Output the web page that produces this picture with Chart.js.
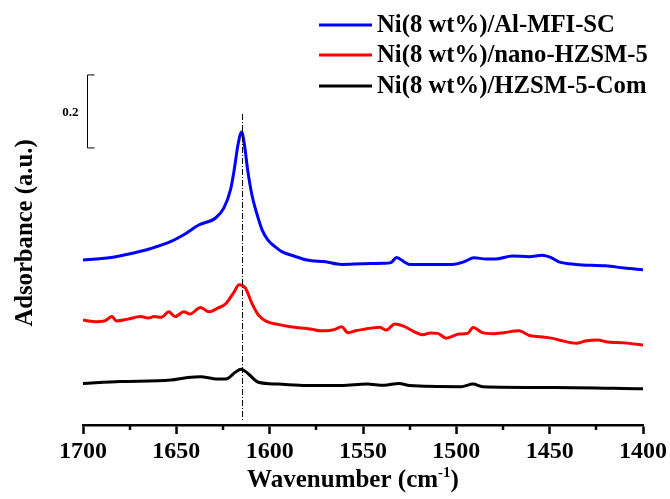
<!DOCTYPE html>
<html>
<head>
<meta charset="utf-8">
<script src="https://cdn.jsdelivr.net/npm/chart.js@4/dist/chart.umd.min.js"></script>
<style>
  html, body { margin: 0; padding: 0; background: #fff; }
  #wrap { width: 670px; height: 499px; }
</style>
</head>
<body>
<div id="wrap"><canvas id="irChart"></canvas></div>
<script>
// series labels and colours
const seriesNames = ["Ni(8 wt%)/Al-MFI-SC", "Ni(8 wt%)/nano-HZSM-5", "Ni(8 wt%)/HZSM-5-Com"];
const seriesColors = ["#0000ff", "#ff0000", "#000000"];

// x ticks (cm-1)
const xTicks = [1700, 1650, 1600, 1550, 1500, 1450, 1400];

// Ni(8 wt%)/Al-MFI-SC (offset absorbance, a.u.)
const blueWn = [1700, 1690, 1685, 1676, 1664, 1654, 1646, 1638, 1629, 1624.5, 1621, 1619, 1617, 1615, 1613.5, 1611.8, 1609.5, 1607, 1604, 1601, 1597, 1593.5, 1587, 1580, 1570, 1561.5, 1550, 1539, 1535, 1532, 1528, 1525, 1515, 1502, 1496, 1490.5, 1484, 1479, 1470, 1461, 1454, 1449, 1445, 1436, 1420, 1410, 1400];
const blueAbs = [0.452, 0.456, 0.459, 0.468, 0.483, 0.500, 0.521, 0.548, 0.567, 0.595, 0.644, 0.699, 0.767, 0.803, 0.767, 0.699, 0.630, 0.581, 0.534, 0.507, 0.488, 0.475, 0.463, 0.452, 0.447, 0.440, 0.442, 0.443, 0.445, 0.459, 0.447, 0.440, 0.440, 0.440, 0.447, 0.458, 0.455, 0.455, 0.463, 0.461, 0.465, 0.458, 0.447, 0.440, 0.436, 0.430, 0.425];

// Ni(8 wt%)/nano-HZSM-5
const redWn = [1700, 1697, 1693, 1688, 1684.5, 1682, 1676, 1669, 1665, 1662, 1658, 1654, 1650.7, 1646, 1642.7, 1637, 1632.5, 1627.8, 1623.4, 1619, 1616.4, 1613, 1609.5, 1606, 1601.4, 1595, 1589, 1577, 1573, 1570, 1565, 1561.5, 1558, 1554, 1550, 1541, 1537.5, 1533, 1528.3, 1522.7, 1518, 1514, 1510, 1505.5, 1498.6, 1494, 1491, 1486, 1480, 1474.5, 1466.4, 1460.8, 1455, 1449, 1445, 1435.6, 1431, 1424, 1420, 1410, 1400];
const redAbs = [0.288, 0.285, 0.283, 0.286, 0.297, 0.285, 0.290, 0.297, 0.293, 0.297, 0.295, 0.310, 0.297, 0.310, 0.304, 0.322, 0.310, 0.320, 0.333, 0.365, 0.384, 0.375, 0.333, 0.301, 0.283, 0.275, 0.269, 0.262, 0.258, 0.258, 0.262, 0.269, 0.253, 0.258, 0.262, 0.268, 0.260, 0.277, 0.271, 0.256, 0.247, 0.252, 0.251, 0.238, 0.249, 0.251, 0.267, 0.253, 0.250, 0.253, 0.258, 0.245, 0.242, 0.238, 0.233, 0.224, 0.230, 0.233, 0.228, 0.225, 0.219];

// Ni(8 wt%)/HZSM-5-Com
const blackWn = [1700, 1680, 1653, 1643.8, 1637, 1630, 1623.4, 1618.6, 1615.3, 1611.8, 1606, 1595.7, 1580, 1561.5, 1548, 1538.7, 1530.7, 1525, 1497.5, 1491, 1486, 1447, 1400];
const blackAbs = [0.114, 0.119, 0.123, 0.130, 0.132, 0.127, 0.126, 0.144, 0.153, 0.142, 0.117, 0.112, 0.108, 0.108, 0.112, 0.109, 0.114, 0.108, 0.105, 0.112, 0.105, 0.103, 0.099];

// marker line and scale bar
const markerWn = 1615;
const scaleBar = [0.759, 0.959];

function toPoints(xs, ys) {
  return xs.map((x, i) => ({ x: x, y: ys[i] }));
}

const SERIF = "'Liberation Serif', 'Times New Roman', serif";

const extras = {
  id: 'extras',
  afterDraw(chart) {
    const ctx = chart.ctx;
    const xs = chart.scales.x;
    const ys = chart.scales.y;
    const area = chart.chartArea;
    ctx.save();

    // minor ticks
    ctx.strokeStyle = '#000';
    ctx.lineWidth = 2.5;
    for (let v = 1675; v > 1400; v -= 50) {
      const px = Math.round(xs.getPixelForValue(v));
      ctx.beginPath();
      ctx.moveTo(px, area.bottom);
      ctx.lineTo(px, area.bottom + 5);
      ctx.stroke();
    }

    // dash-dot line at the peak
    const mx = Math.round(xs.getPixelForValue(markerWn)) + 0.5;
    ctx.lineWidth = 1;
    ctx.setLineDash([6, 2, 1, 2]);
    ctx.beginPath();
    ctx.moveTo(mx, ys.getPixelForValue(0.852));
    ctx.lineTo(mx, area.bottom - 3);
    ctx.stroke();
    ctx.setLineDash([]);

    // scale bar
    const bx = area.left + 4.5;
    const t = ys.getPixelForValue(scaleBar[1]);
    const b = ys.getPixelForValue(scaleBar[0]);
    ctx.lineWidth = 1;
    ctx.beginPath();
    ctx.moveTo(bx + 7, t);
    ctx.lineTo(bx, t);
    ctx.lineTo(bx, b);
    ctx.lineTo(bx + 7, b);
    ctx.stroke();
    ctx.fillStyle = '#000';
    ctx.font = 'bold 13px ' + SERIF;
    ctx.textAlign = 'right';
    ctx.textBaseline = 'middle';
    ctx.fillText('0.2', bx - 9, (t + b) / 2 + 1);

    // legend
    ctx.font = 'bold 24.7px ' + SERIF;
    ctx.textAlign = 'left';
    const rows = [25, 55, 86];
    seriesNames.forEach((name, i) => {
      ctx.strokeStyle = seriesColors[i];
      ctx.lineWidth = 3;
      ctx.beginPath();
      ctx.moveTo(319, rows[i]);
      ctx.lineTo(372, rows[i]);
      ctx.stroke();
      ctx.fillStyle = '#000';
      ctx.fillText(name, 377, rows[i] + 1);
    });

    // x axis title with superscript
    const main = 'Wavenumber (cm';
    const sup = '-1';
    const tail = ')';
    ctx.font = 'bold 25px ' + SERIF;
    const w1 = ctx.measureText(main).width;
    const w3 = ctx.measureText(tail).width;
    ctx.font = 'bold 15px ' + SERIF;
    const w2 = ctx.measureText(sup).width;
    const cx = 353;
    let x0 = cx - (w1 + w2 + w3) / 2;
    const base = 487;
    ctx.textBaseline = 'alphabetic';
    ctx.font = 'bold 25px ' + SERIF;
    ctx.fillText(main, x0, base);
    ctx.font = 'bold 15px ' + SERIF;
    ctx.fillText(sup, x0 + w1, base - 10);
    ctx.font = 'bold 25px ' + SERIF;
    ctx.fillText(tail, x0 + w1 + w2, base);

    ctx.restore();
  }
};

new Chart(document.getElementById('irChart'), {
  type: 'line',
  data: {
    datasets: [
      { label: seriesNames[0], data: toPoints(blueWn, blueAbs), borderColor: seriesColors[0] },
      { label: seriesNames[1], data: toPoints(redWn, redAbs), borderColor: seriesColors[1], tension: 0.2 },
      { label: seriesNames[2], data: toPoints(blackWn, blackAbs), borderColor: seriesColors[2] }
    ]
  },
  options: {
    responsive: true,
    maintainAspectRatio: false,
    animation: false,
    layout: { padding: { top: 41, right: 27, left: 0, bottom: 0 } },
    elements: {
      point: { radius: 0 },
      line: { borderWidth: 3, tension: 0.35, cubicInterpolationMode: 'monotone' }
    },
    plugins: {
      legend: { display: false },
      tooltip: { enabled: false }
    },
    scales: {
      x: {
        type: 'linear',
        reverse: true,
        min: 1400,
        max: 1700,
        afterBuildTicks(scale) {
          scale.ticks = xTicks.map(v => ({ value: v }));
        },
        afterFit(scale) { scale.height = 74; },
        border: { display: true, color: '#000', width: 2.5 },
        grid: { display: true, drawOnChartArea: false, drawTicks: true, tickLength: 9, tickWidth: 2.5, tickColor: '#000' },
        ticks: {
          color: '#000',
          padding: 3,
          maxRotation: 0,
          callback: v => String(v),
          font: { family: SERIF, size: 24, weight: 'bold' }
        }
      },
      y: {
        min: 0,
        max: 1.052,
        afterFit(scale) { scale.width = 83; },
        border: { display: false },
        grid: { display: false },
        ticks: { display: false },
        title: {
          display: true,
          text: 'Adsorbance (a.u.)',
          color: '#000',
          padding: { top: 11, bottom: 0 },
          font: { family: SERIF, size: 24.7, weight: 'bold' }
        }
      }
    }
  },
  plugins: [extras]
});
</script>
</body>
</html>
